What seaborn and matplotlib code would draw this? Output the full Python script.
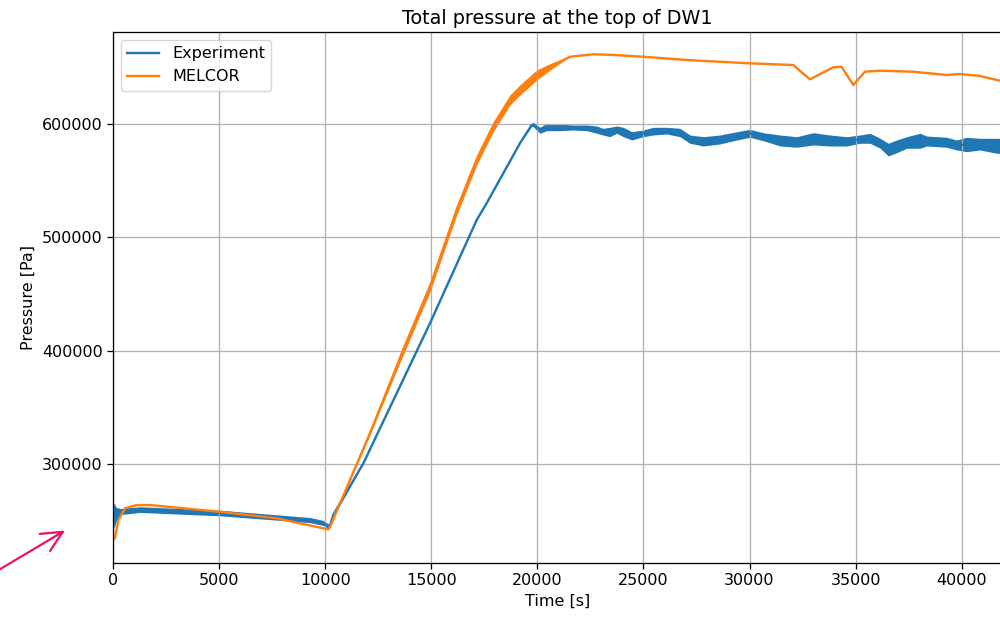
import matplotlib
matplotlib.use("Agg")
import matplotlib.pyplot as plt
import matplotlib.patches as mpatches
import seaborn as sns
import pandas as pd

# ---- Data (time in s, pressure in Pa) ----
# Experiment: lower / upper envelope of the noisy measurement
exp_time = [0, 50, 150, 330, 1270, 5040, 9280, 9900, 10130, 10230,
            10380, 11800, 14940, 17140, 17610, 19180, 19730, 19810, 20120, 20440,
            21070, 21680, 22330, 22800, 23090, 23420, 23740, 24050, 24450, 24990,
            25460, 26100, 26720, 27190, 27820, 28610, 29400, 30020, 30650, 31440,
            32220, 33010, 33790, 34580, 35210, 35680, 36160, 36540, 36940, 37410,
            38040, 38350, 39290, 39760, 40230, 40860, 41650, 42000]
exp_low = [252000, 243000, 250000, 255500, 257500, 254500, 248500, 246000, 243500, 244000,
           253500, 300800, 424300, 515300, 530100, 583000, 598000, 597600, 591800, 594100,
           594100, 594700, 594100, 591800, 590300, 588800, 591800, 588800, 585900, 588800,
           590300, 591200, 588800, 583000, 580600, 582400, 585900, 588300, 585300, 580600,
           579500, 581500, 580600, 580600, 583000, 583000, 578600, 571800, 574700, 578600,
           578600, 580600, 579500, 577100, 575600, 577100, 574200, 574000]
exp_high = [262000, 266000, 262000, 261000, 262500, 259500, 253000, 250500, 247500, 248000,
            257000, 300800, 424300, 515300, 530100, 583000, 600000, 601500, 597100, 600600,
            600000, 599100, 599100, 598200, 596200, 597100, 598200, 597100, 593200, 594700,
            597100, 597100, 596200, 590300, 588800, 590300, 593200, 595300, 592300, 590300,
            588800, 592300, 590300, 588800, 590300, 591800, 587400, 583000, 585900, 588800,
            591800, 589400, 588300, 585900, 588300, 587400, 587400, 587000]

# MELCOR: lower / upper envelope (saw-tooth ripple during the pressurisation)
mel_time = [0, 94, 250, 565, 1120, 1740, 5040, 7710, 9910, 10150,
            10230, 12110, 13680, 14940, 16200, 17140, 17920, 18710, 19180, 19970,
            20750, 21540, 22640, 23580, 24990, 27040, 30020, 32060, 32850, 33950,
            34340, 34890, 35440, 36150, 37720, 39290, 39920, 40860, 41800, 42000]
mel_low = [233500, 235000, 250800, 261100, 264000, 264000, 258100, 252300, 243500, 242600,
           244900, 326000, 396500, 452000, 519700, 563800, 593100, 616700, 625500, 638700,
           649500, 659300, 661500, 660900, 659300, 656400, 653500, 652000, 639400, 650000,
           650500, 634400, 646100, 647000, 646100, 643200, 644100, 642300, 638200, 637500]
mel_high = [233500, 235000, 250800, 261100, 264000, 264000, 258100, 252300, 243500, 242600,
            244900, 328500, 404900, 461000, 528700, 572800, 602100, 625700, 634500, 647700,
            654500, 659300, 661500, 660900, 659300, 656400, 653500, 652000, 639400, 650000,
            650500, 634400, 646100, 647000, 646100, 643200, 644100, 642300, 638200, 637500]

x_ticks = [0, 5000, 10000, 15000, 20000, 25000, 30000, 35000, 40000]
y_ticks = [300000, 400000, 500000, 600000]

S = 1.15  # the reference is rendered slightly enlarged
plt.rcParams.update({
    "font.size": 10 * S,
    "axes.titlesize": 12 * S,
    "axes.linewidth": 0.8 * S,
    "grid.linewidth": 0.8 * S,
    "xtick.major.size": 3.5 * S,
    "ytick.major.size": 3.5 * S,
    "xtick.major.width": 0.8 * S,
    "ytick.major.width": 0.8 * S,
})

def envelope_frame(t, lo, hi):
    return pd.DataFrame({"time": list(t) + list(t), "pressure": list(lo) + list(hi)})

exp_df = envelope_frame(exp_time, exp_low, exp_high)
mel_df = envelope_frame(mel_time, mel_low, mel_high)

fig = plt.figure(figsize=(10, 6.17), dpi=100)
ax = fig.add_axes([0.113, 0.0875, 0.889, 0.8606])

blue = "#1f77b4"
orange = "#ff7f0e"

sns.lineplot(data=exp_df, x="time", y="pressure", ax=ax, color=blue,
             linewidth=1.5 * S, label="Experiment", estimator="mean",
             errorbar=("pi", 100), err_kws={"alpha": 1.0, "linewidth": 0})
sns.lineplot(data=mel_df, x="time", y="pressure", ax=ax, color=orange,
             linewidth=1.5 * S, label="MELCOR", estimator="mean",
             errorbar=("pi", 100), err_kws={"alpha": 1.0, "linewidth": 0})

ax.set_xlim(0, 41900)
ax.set_ylim(212900, 681100)
ax.set_xticks(x_ticks)
ax.set_yticks(y_ticks)
ax.ticklabel_format(style="plain", axis="both", useOffset=False)
ax.grid(True)
ax.set_title("Total pressure at the top of DW1")
ax.set_xlabel("Time [s]")
ax.set_ylabel("Pressure [Pa]")
ax.legend(loc="upper left")

# pink annotation arrow outside the axes (figure pixel coordinates)
fig.patches.append(mpatches.FancyArrowPatch(
    (-3, 46), (65, 86.5), transform=None,
    arrowstyle="->,head_length=0.75,head_width=0.36", mutation_scale=20,
    shrinkA=0, shrinkB=0, color="#E8116B", lw=1.6))

fig.savefig("out.png", dpi=100)
